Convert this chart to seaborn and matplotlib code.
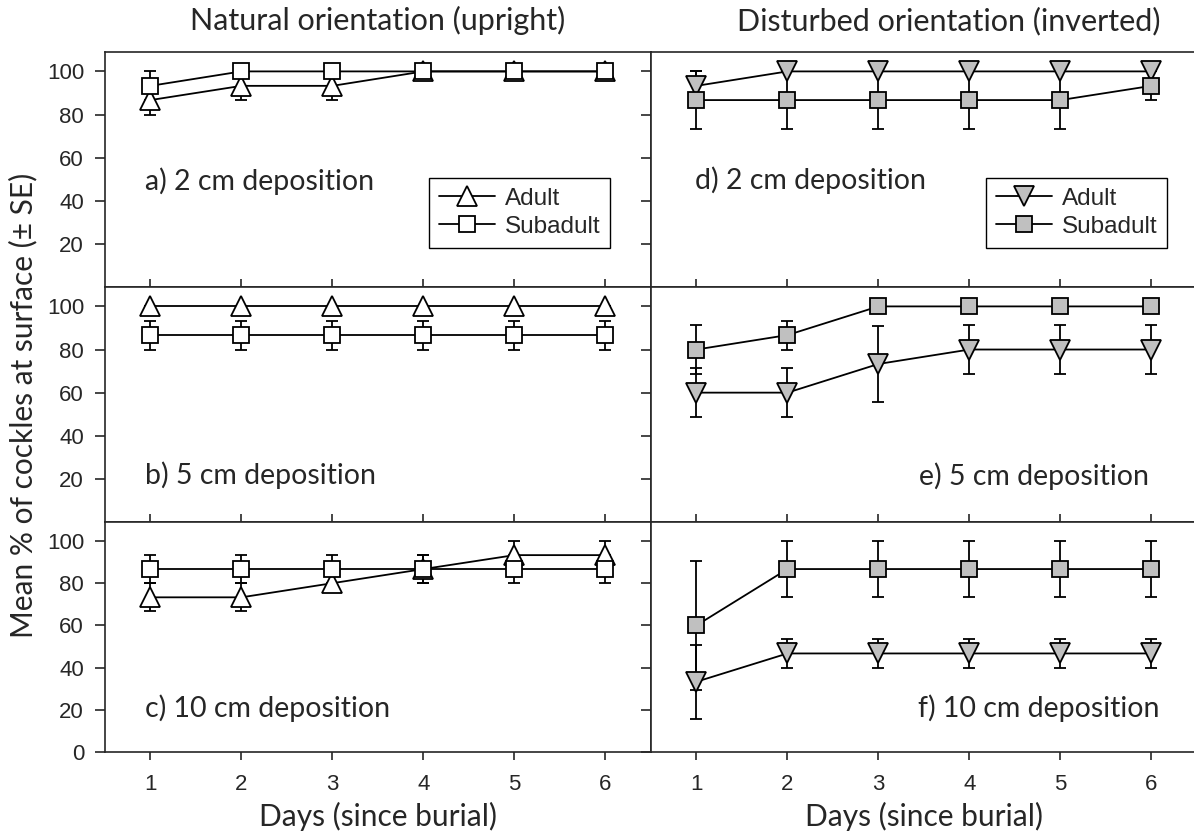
import matplotlib
matplotlib.use("Agg")
import matplotlib.pyplot as plt
import seaborn as sns
import pandas as pd

# 数据：各处理组每日在表面的平均比例 (%) 及标准误
days = [1, 2, 3, 4, 5, 6]
stages = ["Adult", "Subadult"]
orientations = ["Natural orientation (upright)", "Disturbed orientation (inverted)"]
depths = ["2 cm", "5 cm", "10 cm"]

# natural orientation (upright)
nat_2_adult = [86.7, 93.3, 93.3, 100, 100, 100]
nat_2_adult_se = [6.7, 6.7, 6.7, 0, 0, 0]
nat_2_sub = [93.3, 100, 100, 100, 100, 100]
nat_2_sub_se = [6.7, 0, 0, 0, 0, 0]

nat_5_adult = [100, 100, 100, 100, 100, 100]
nat_5_adult_se = [0, 0, 0, 0, 0, 0]
nat_5_sub = [86.7, 86.7, 86.7, 86.7, 86.7, 86.7]
nat_5_sub_se = [6.7, 6.7, 6.7, 6.7, 6.7, 6.7]

nat_10_adult = [73.3, 73.3, 80, 86.7, 93.3, 93.3]
nat_10_adult_se = [6.7, 6.7, 0, 6.7, 6.7, 6.7]
nat_10_sub = [86.7, 86.7, 86.7, 86.7, 86.7, 86.7]
nat_10_sub_se = [6.7, 6.7, 6.7, 6.7, 6.7, 6.7]

# disturbed orientation (inverted)
inv_2_adult = [93.3, 100, 100, 100, 100, 100]
inv_2_adult_se = [6.7, 0, 0, 0, 0, 0]
inv_2_sub = [86.7, 86.7, 86.7, 86.7, 86.7, 93.3]
inv_2_sub_se = [13.3, 13.3, 13.3, 13.3, 13.3, 6.7]

inv_5_adult = [60, 60, 73.3, 80, 80, 80]
inv_5_adult_se = [11.3, 11.3, 17.6, 11.5, 11.5, 11.5]
inv_5_sub = [80, 86.7, 100, 100, 100, 100]
inv_5_sub_se = [11.5, 6.7, 0, 0, 0, 0]

inv_10_adult = [33.3, 46.7, 46.7, 46.7, 46.7, 46.7]
inv_10_adult_se = [17.5, 6.7, 6.7, 6.7, 6.7, 6.7]
inv_10_sub = [60, 86.7, 86.7, 86.7, 86.7, 86.7]
inv_10_sub_se = [30.7, 13.3, 13.3, 13.3, 13.3, 13.3]

panel_labels = ["a) 2 cm deposition", "b) 5 cm deposition", "c) 10 cm deposition",
                "d) 2 cm deposition", "e) 5 cm deposition", "f) 10 cm deposition"]

series = {
    (0, 0): (nat_2_adult, nat_2_adult_se, nat_2_sub, nat_2_sub_se),
    (0, 1): (nat_5_adult, nat_5_adult_se, nat_5_sub, nat_5_sub_se),
    (0, 2): (nat_10_adult, nat_10_adult_se, nat_10_sub, nat_10_sub_se),
    (1, 0): (inv_2_adult, inv_2_adult_se, inv_2_sub, inv_2_sub_se),
    (1, 1): (inv_5_adult, inv_5_adult_se, inv_5_sub, inv_5_sub_se),
    (1, 2): (inv_10_adult, inv_10_adult_se, inv_10_sub, inv_10_sub_se),
}

rows = []
for (col, row), (a, a_se, s, s_se) in series.items():
    for d, m, e in zip(days, a, a_se):
        rows.append(dict(col=col, row=row, day=d, stage="Adult", mean=m, se=e))
    for d, m, e in zip(days, s, s_se):
        rows.append(dict(col=col, row=row, day=d, stage="Subadult", mean=m, se=e))
df = pd.DataFrame(rows)

sns.set_style("ticks")
label_font = ["Lato", "DejaVu Sans"]
tick_font = ["Liberation Sans", "DejaVu Sans"]
plt.rcParams["font.family"] = tick_font
plt.rcParams["axes.linewidth"] = 1.2

fig = plt.figure(figsize=(11.94, 8.36), dpi=100)

col_x = [0.0879, 0.5452]
col_w = 0.4573
row_y = [0.6567, 0.3756, 0.1005]
row_h = [0.2811, 0.2811, 0.2751]

markers_by_col = [{"Adult": "^", "Subadult": "s"}, {"Adult": "v", "Subadult": "s"}]
face_by_col = ["white", "#c0c0c0"]
text_pos = {
    (0, 0): (0.073, 0.45, "left"), (0, 1): (0.073, 0.20, "left"), (0, 2): (0.073, 0.19, "left"),
    (1, 0): (0.080, 0.455, "left"), (1, 1): (0.912, 0.196, "right"), (1, 2): (0.932, 0.19, "right"),
}

for col in range(2):
    for row in range(3):
        ax = fig.add_axes([col_x[col], row_y[row], col_w, row_h[row]])
        sub = df[(df.col == col) & (df.row == row)]
        for stage in stages:
            part = sub[sub.stage == stage]
            ax.errorbar(part["day"], part["mean"], yerr=part["se"], fmt="none",
                        ecolor="black", elinewidth=1.3, capsize=4.5, capthick=1.3, zorder=1.5)
            sns.lineplot(data=part, x="day", y="mean", ax=ax, color="black",
                         marker=markers_by_col[col][stage], markersize=14.5 if stage == "Adult" else 11.5,
                         markerfacecolor=face_by_col[col], markeredgecolor="black",
                         markeredgewidth=1.3, linewidth=1.3, label=stage, legend=False)
        ax.set_xlim(0.5, 6.5)
        ax.set_ylim(0, 109)
        ax.set_xlabel("")
        ax.set_ylabel("")
        ax.set_xticks(days)
        if row == 2:
            ax.set_yticks([0, 20, 40, 60, 80, 100])
            ax.tick_params(axis="x", direction="out", length=6, width=1.2, labelsize=16, pad=10)
            ax.set_xlabel("Days (since burial)", fontsize=21.5, family=label_font, labelpad=5)
        else:
            ax.set_yticks([20, 40, 60, 80, 100])
            ax.tick_params(axis="x", direction="in", length=6, width=1.2, labelbottom=False)
        ax.tick_params(axis="y", direction="out", length=7, width=1.2, labelsize=16, pad=8)
        if col == 1:
            ax.tick_params(axis="y", labelleft=False)
        for s in ax.spines.values():
            s.set_visible(True)
            s.set_linewidth(1.2)
        tx, ty, ha = text_pos[(col, row)]
        ax.text(tx, ty, panel_labels[col * 3 + row], transform=ax.transAxes, ha=ha, va="center",
                fontsize=20.5, family=label_font)
        if row == 0:
            anchor = (0.925, 0.464) if col == 0 else (0.945, 0.464)
            leg = ax.legend(loc="upper right", bbox_to_anchor=anchor, borderaxespad=0,
                            fancybox=False, edgecolor="black", fontsize=17.5, handlelength=2.3,
                            framealpha=1, borderpad=0.4, labelspacing=0.25, handletextpad=0.4)
            leg.get_frame().set_linewidth(1.0)

fig.text(0.3166, 0.975, orientations[0], ha="center", va="center", fontsize=22, family=label_font)
fig.text(0.795, 0.975, orientations[1], ha="center", va="center", fontsize=22, family=label_font)
fig.text(0.019, 0.515, "Mean % of cockles at surface (\u00b1 SE)", ha="center", va="center",
         rotation=90, fontsize=21.5, family=label_font)

fig.savefig("out.png", dpi=100)
